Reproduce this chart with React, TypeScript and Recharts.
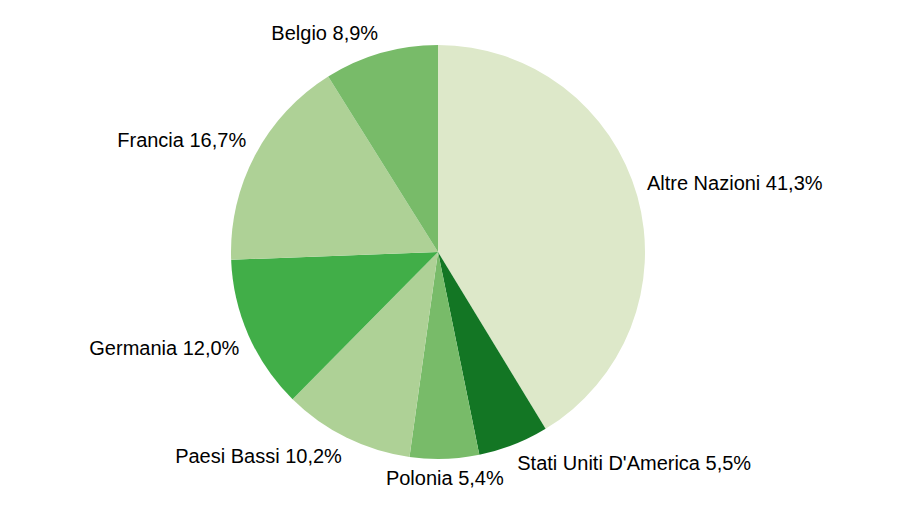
import { PieChart, Pie, Cell } from "recharts";

const countries = [
    "Altre Nazioni",
    "Stati Uniti D'America",
    "Polonia",
    "Paesi Bassi",
    "Germania",
    "Francia",
    "Belgio",
];
const shares = [41.3, 5.5, 5.4, 10.2, 12.0, 16.7, 8.9];
const colors = ["#dde8c9", "#137624", "#78bb69", "#aed196", "#41ae48", "#aed196", "#78bb69"];

const data = countries.map((name, i) => ({ name, value: shares[i] }));

const RAD = Math.PI / 180;

const renderLabel = (props: any) => {
    const { cx, cy, midAngle, outerRadius, index } = props;
    const r = outerRadius + 10;
    const cos = Math.cos(-midAngle * RAD);
    const sin = Math.sin(-midAngle * RAD);
    const x = cx + r * cos;
    const y = cy + r * sin;
    const anchor = cos > 0.1 ? "start" : cos < -0.1 ? "end" : "middle";
    const baseline = sin < 0 ? y - 3 : y + 16;
    const label = `${countries[index]} ${shares[index].toFixed(1).replace(".", ",")}%`;
    return (
        <text x={x} y={baseline} textAnchor={anchor} fill="#000" fontSize={20} fontFamily="'Liberation Sans', Arial, sans-serif">
            {label}
        </text>
    );
};

export default function App() {
    return (
        <div style={{ margin: -8, width: 907, height: 510, background: "#fff" }}>
            <PieChart width={907} height={510} margin={{ top: 0, right: 0, bottom: 0, left: 0 }}>
                <Pie
                    data={data}
                    dataKey="value"
                    nameKey="name"
                    cx={438}
                    cy={252}
                    outerRadius={207}
                    startAngle={90}
                    endAngle={-270}
                    stroke="none"
                    label={renderLabel}
                    labelLine={false}
                    isAnimationActive={false}
                >
                    {data.map((d, i) => (
                        <Cell key={d.name} fill={colors[i]} />
                    ))}
                </Pie>
            </PieChart>
        </div>
    );
}
